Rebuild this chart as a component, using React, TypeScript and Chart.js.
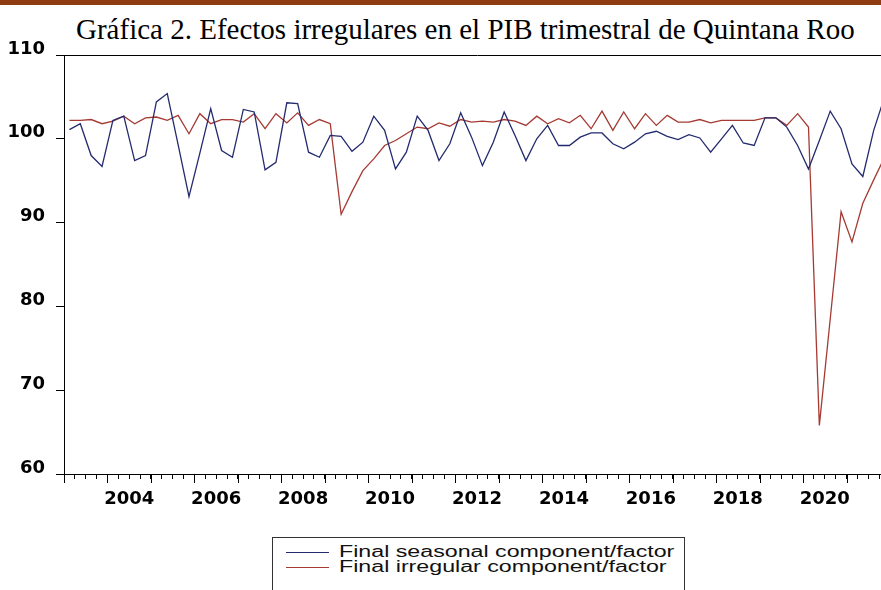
import React, { useEffect, useRef } from "react";
import { Chart, registerables } from "chart.js";

Chart.register(...registerables);

// ---------- data ----------
const startYear = 2003; // first quarter: 2003Q1
const seasonal = [
  101.1, 101.8, 98.0, 96.7, 102.2, 102.7, 97.4, 98.0,
  104.4, 105.4, 99.3, 93.1, 98.3, 103.6, 98.6, 97.8,
  103.5, 103.2, 96.3, 97.2, 104.3, 104.2, 98.4, 97.8,
  100.4, 100.3, 98.5, 99.6, 102.7, 101.0, 96.4, 98.4,
  102.7, 101.0, 97.4, 99.4, 103.1, 100.2, 96.8, 99.6,
  103.2, 100.4, 97.4, 100.0, 101.6, 99.2, 99.2, 100.2,
  100.7, 100.7, 99.4, 98.8, 99.6, 100.6, 100.9, 100.3,
  99.9, 100.5, 100.1, 98.4, 100.0, 101.6, 99.5, 99.2,
  102.5, 102.5, 101.4, 99.2, 96.4, 99.8, 103.3, 101.2,
  97.0, 95.5, 101.0, 105.0,
];
const irregular = [
  102.2, 102.2, 102.3, 101.8, 102.1, 102.7, 101.8, 102.5,
  102.6, 102.2, 102.8, 100.6, 103.0, 101.8, 102.3, 102.3,
  102.0, 103.0, 101.2, 103.0, 101.9, 103.1, 101.6, 102.3,
  101.8, 91.0, 93.7, 96.2, 97.6, 99.2, 99.8, 100.6,
  101.4, 101.2, 101.9, 101.5, 102.3, 102.0, 102.1, 102.0,
  102.3, 102.1, 101.6, 102.7, 101.8, 102.4, 101.9, 102.8,
  101.2, 103.3, 101.0, 103.2, 101.2, 103.0, 101.6, 102.8,
  102.0, 102.0, 102.3, 101.9, 102.2, 102.2, 102.2, 102.2,
  102.5, 102.5, 101.6, 103.0, 101.4, 65.8, 78.5, 91.3,
  87.7, 92.3, 95.1, 97.8,
];
const yTicks = [60, 70, 80, 90, 100, 110];
const yearLabels = [2004, 2006, 2008, 2010, 2012, 2014, 2016, 2018, 2020];
const seriesNames = [
  "Final seasonal component/factor",
  "Final irregular component/factor",
];
const titleText =
  "Gráfica 2. Efectos irregulares en el PIB trimestral de Quintana Roo";

const BLUE = "#232a6e";
const RED = "#a53a33";
const TICK_FONT = { family: "'DejaVu Sans', sans-serif", size: 18, weight: "bold" as const };

const majorTicks = {
  id: "majorTicks",
  afterDraw(chart: any) {
    const s = chart.scales.x;
    const ctx = chart.ctx;
    ctx.save();
    ctx.strokeStyle = "#000";
    ctx.lineWidth = 1;
    const n = seasonal.length;
    for (let v = 0; v <= n; v += 4) {
      const px = Math.round(s.getPixelForValue(v)) + 0.5;
      ctx.beginPath();
      ctx.moveTo(px, s.top);
      ctx.lineTo(px, s.top + 9);
      ctx.stroke();
    }
    ctx.restore();
  },
};

export default function App() {
  const ref = useRef<HTMLCanvasElement | null>(null);

  useEffect(() => {
    if (!ref.current) return;
    const nQ = seasonal.length;
    const chart = new Chart(ref.current, {
      type: "line",
      data: {
        datasets: [
          {
            label: seriesNames[0],
            data: seasonal.map((v, i) => ({ x: i + 0.5, y: v })),
            borderColor: BLUE,
            borderWidth: 1.3,
            pointRadius: 0,
            tension: 0,
            fill: false,
          },
          {
            label: seriesNames[1],
            data: irregular.map((v, i) => ({ x: i + 0.5, y: v })),
            borderColor: RED,
            borderWidth: 1.3,
            pointRadius: 0,
            tension: 0,
            fill: false,
          },
        ],
      },
      options: {
        animation: false,
        responsive: false,
        devicePixelRatio: 1,
        layout: { padding: { left: 0, top: 55, right: 9, bottom: 0 } },
        plugins: {
          legend: { display: false },
          tooltip: { enabled: false },
          title: { display: false },
        },
        scales: {
          x: {
            type: "linear",
            position: "bottom",
            min: 0,
            max: nQ,
            afterBuildTicks: (s: any) => {
              s.ticks = Array.from({ length: nQ + 1 }, (_, i) => ({ value: i }));
            },
            afterFit: (s: any) => {
              s.height = 116;
            },
            ticks: {
              autoSkip: false,
              maxRotation: 0,
              minRotation: 0,
              padding: 10,
              color: "#000",
              font: TICK_FONT,
              callback: (v: any) => {
                const year = startYear + (Number(v) - 2) / 4;
                return yearLabels.includes(year) ? String(year) : "";
              },
            },
            grid: {
              drawOnChartArea: false,
              drawTicks: true,
              tickLength: 5,
              tickColor: "#000",
              tickWidth: 1,
            },
            border: { display: true, color: "#000", width: 1 },
          },
          xTop: {
            type: "linear",
            position: "top",
            min: 0,
            max: nQ,
            ticks: { display: false },
            grid: { drawOnChartArea: false, drawTicks: false },
            border: { display: true, color: "#000", width: 1 },
            afterFit: (s: any) => {
              s.height = 0;
            },
          },
          y: {
            type: "linear",
            min: 60,
            max: 110,
            afterBuildTicks: (s: any) => {
              s.ticks = yTicks.map((v) => ({ value: v }));
            },
            afterFit: (s: any) => {
              s.width = 64;
            },
            ticks: { padding: 11, color: "#000", font: TICK_FONT, labelOffset: -6 },
            grid: {
              drawOnChartArea: false,
              drawTicks: true,
              tickLength: 8,
              tickColor: "#000",
            },
            border: { display: true, color: "#000", width: 1 },
          },
        },
      },
      plugins: [majorTicks],
    });
    return () => chart.destroy();
  }, []);

  const legendText: React.CSSProperties = {
    position: "absolute",
    left: 66,
    fontFamily: "'Liberation Sans', Arial, sans-serif",
    fontSize: 16,
    lineHeight: "16px",
    color: "#111",
    whiteSpace: "nowrap",
    transform: "scaleX(1.45)",
    transformOrigin: "left center",
  };

  return (
    <div
      style={{
        position: "absolute",
        left: 0,
        top: 0,
        width: 881,
        height: 590,
        overflow: "hidden",
        background: "#fff",
      }}
    >
      <div
        style={{
          position: "absolute",
          left: 0,
          top: 0,
          width: 881,
          height: 5,
          background: "#8d3c12",
        }}
      />
      <div
        style={{
          position: "absolute",
          left: 76,
          top: 15,
          fontFamily: "'Liberation Serif', 'Times New Roman', serif",
          fontSize: 29,
          lineHeight: "29px",
          color: "#000",
          whiteSpace: "nowrap",
        }}
      >
        {titleText}
      </div>
      <canvas
        ref={ref}
        width={900}
        height={590}
        style={{ position: "absolute", left: 0, top: 0, width: 900, height: 590 }}
      />
      <div
        style={{
          position: "absolute",
          left: 272,
          top: 537,
          width: 411,
          height: 70,
          border: "1px solid #333",
          background: "#fff",
        }}
      >
        <div style={{ position: "absolute", left: 13, top: 14, width: 43, height: 1, background: BLUE }} />
        <div style={{ ...legendText, top: 6 }}>{seriesNames[0]}</div>
        <div style={{ position: "absolute", left: 13, top: 29, width: 43, height: 1, background: RED }} />
        <div style={{ ...legendText, top: 21 }}>{seriesNames[1]}</div>
      </div>
    </div>
  );
}
